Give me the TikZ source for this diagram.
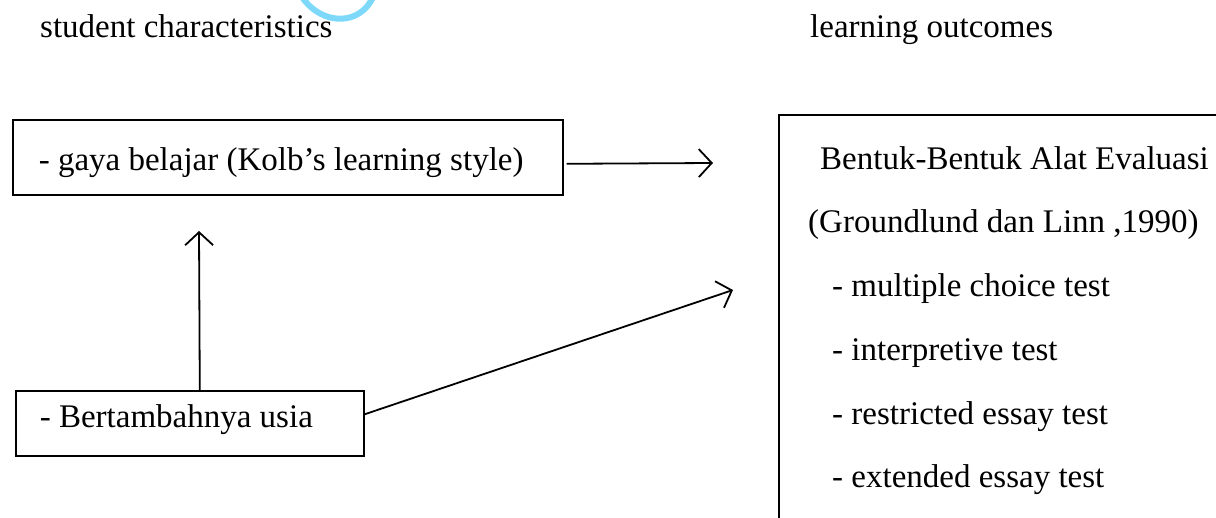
\documentclass[tikz,border=0pt]{standalone}
\usepackage{fontspec}
\setmainfont{Liberation Serif}
\usetikzlibrary{arrows.meta}
\definecolor{wm}{RGB}{125,216,250}
\begin{document}
\begin{tikzpicture}[x=1pt,y=-1pt,
  every node/.style={font=\fontsize{33}{40}\selectfont},
  boxnode/.style={draw, line width=1.6pt, inner ysep=0pt},
  conn/.style={line width=1.8pt, -{Straight Barb[length=13pt,width=28pt,line width=1.8pt]}},
  lbl/.style={anchor=base west, inner sep=0pt}]
\useasboundingbox (0,0) rectangle (1216,518);
\clip (0,0) rectangle (1216,518);
% watermark mark
\draw[wm, line width=6pt, line cap=round] (302,-3) .. controls (322,26) and (360,26) .. (373,-3);
% headings
\node[lbl] (h1) at (40,38) {student characteristics};
\node[lbl] (h2) at (810,38) {learning outcomes};
% boxes
\node[boxnode, anchor=north west, inner xsep=26pt, text height=51pt, text depth=24pt] (b1) at (12,119) {\makebox[498pt][l]{- gaya belajar (Kolb's learning style)}};
\node[boxnode, anchor=north west, inner xsep=24pt, text height=37pt, text depth=28pt] (b2) at (15,390) {\makebox[300pt][l]{- Bertambahnya usia}};
\node[draw, line width=1.6pt, anchor=north west, minimum width=600pt, minimum height=500pt] (out) at (778,114) {};
% right box text
\node[lbl] (o1) at (820,170) {Bentuk-Bentuk Alat Evaluasi};
\node[lbl] (o2) at (808,233) {(Groundlund dan Linn ,1990)};
\node[lbl] (o3) at (832,297) {- multiple choice test};
\node[lbl] (o4) at (832,361) {- interpretive test};
\node[lbl] (o5) at (832,425) {- restricted essay test};
\node[lbl] (o6) at (832,488) {- extended essay test};
% connectors
\coordinate (t1) at (713,163);
\coordinate (t2) at (199,231);
\coordinate (t3) at (733,290);
\coordinate (s1) at ([xshift=3pt,yshift=-6.5pt]b1.east);
\coordinate (s2) at ([xshift=10pt]b2.north);
\coordinate (s3) at ([yshift=9pt]b2.east);
\draw[conn] (s1) -- (t1);
\draw[conn] (s2) -- (t2);
\draw[conn] (s3) -- (t3);
\end{tikzpicture}
\end{document}
